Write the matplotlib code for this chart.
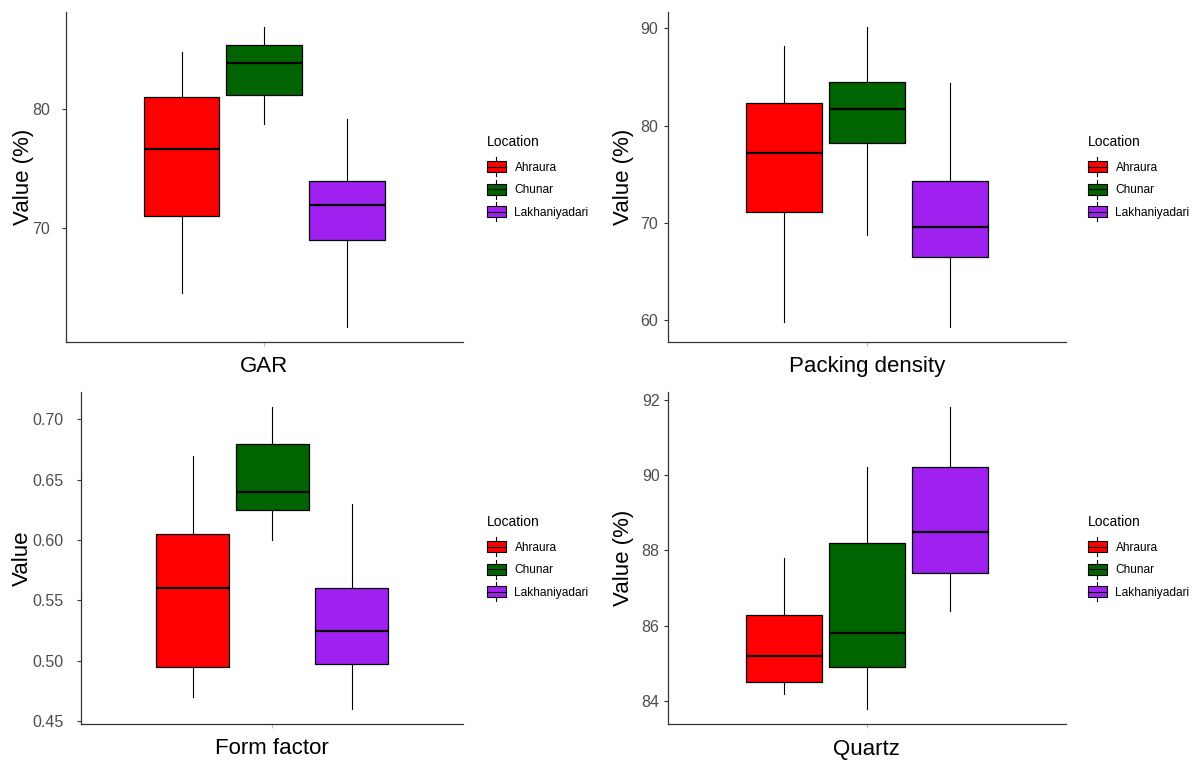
import matplotlib
matplotlib.use("Agg")
import matplotlib.pyplot as plt
from matplotlib.patches import Patch, Rectangle
from matplotlib.lines import Line2D
from matplotlib.legend_handler import HandlerBase
from matplotlib.ticker import MultipleLocator, FormatStrFormatter

plt.rcParams['font.family'] = ['Liberation Sans', 'DejaVu Sans']

locations = ["Ahraura", "Chunar", "Lakhaniyadari"]
colors = ["#FF0000", "#006400", "#A020F0"]

# GAR (%)
gar_lo = [64.6, 78.8, 61.7]
gar_q1 = [71.0, 81.2, 69.0]
gar_med = [76.7, 83.9, 72.0]
gar_q3 = [81.0, 85.4, 74.0]
gar_hi = [84.8, 86.9, 79.2]

# Packing density (%)
pd_lo = [59.8, 68.8, 59.3]
pd_q1 = [71.1, 78.2, 66.5]
pd_med = [77.2, 81.7, 69.6]
pd_q3 = [82.3, 84.5, 74.3]
pd_hi = [88.2, 90.1, 84.4]

# Form factor
ff_lo = [0.47, 0.60, 0.46]
ff_q1 = [0.495, 0.625, 0.497]
ff_med = [0.56, 0.64, 0.525]
ff_q3 = [0.605, 0.68, 0.56]
ff_hi = [0.67, 0.71, 0.63]

# Quartz (%)
qz_lo = [84.2, 83.8, 86.4]
qz_q1 = [84.5, 84.9, 87.4]
qz_med = [85.2, 85.8, 88.5]
qz_q3 = [86.3, 88.2, 90.2]
qz_hi = [87.8, 90.2, 91.8]

panels = [
    dict(name="GAR", ylabel="Value (%)", lo=gar_lo, q1=gar_q1, med=gar_med, q3=gar_q3, hi=gar_hi,
         step=10, fmt="%d", box=(65.7, 463, 12.3, 342), ypad=8.6, ylx=23, leg=(487, 135)),
    dict(name="Packing density", ylabel="Value (%)", lo=pd_lo, q1=pd_q1, med=pd_med, q3=pd_q3, hi=pd_hi,
         step=10, fmt="%d", box=(667.7, 1066, 12.3, 342), ypad=3.9, ylx=624, leg=(1088, 135)),
    dict(name="Form factor", ylabel="Value", lo=ff_lo, q1=ff_q1, med=ff_med, q3=ff_q3, hi=ff_hi,
         step=0.05, fmt="%.2f", box=(81.3, 463, 392.3, 724), ypad=10.0, ylx=22.5, leg=(487, 515)),
    dict(name="Quartz", ylabel="Value (%)", lo=qz_lo, q1=qz_q1, med=qz_med, q3=qz_q3, hi=qz_hi,
         step=2, fmt="%d", box=(667.7, 1066, 392, 724), ypad=3.0, ylx=624, leg=(1088, 515)),
]

W, H = 1197, 760
fig = plt.figure(figsize=(W / 100, H / 100), dpi=100)


class BoxHandler(HandlerBase):
    def create_artists(self, legend, orig_handle, xdescent, ydescent, width, height, fontsize, trans):
        x0, y0 = -xdescent, -ydescent
        b0, b1 = y0 + height * 0.21, y0 + height * 0.79
        xm = x0 + width / 2
        arts = [
            Line2D([xm, xm], [y0, b0], color="black", lw=0.8, transform=trans),
            Line2D([xm, xm], [b1, y0 + height], color="black", lw=0.8, transform=trans),
            Rectangle((x0, b0), width, b1 - b0, facecolor=orig_handle.get_facecolor(),
                      edgecolor="black", lw=0.8, transform=trans),
            Line2D([x0, x0 + width], [(b0 + b1) / 2] * 2, color="black", lw=0.8, transform=trans),
        ]
        return arts


positions = [0.75, 1.0, 1.25]
for p in panels:
    l, r, t, b = p["box"]
    ax = fig.add_axes([l / W, 1 - b / H, (r - l) / W, (b - t) / H])
    stats = []
    for i in range(3):
        stats.append(dict(whislo=p["lo"][i], q1=p["q1"][i], med=p["med"][i],
                          q3=p["q3"][i], whishi=p["hi"][i], fliers=[], label=locations[i]))
    bp = ax.bxp(stats, positions=positions, widths=0.229, patch_artist=True,
                showfliers=False, showcaps=False,
                boxprops=dict(edgecolor="black", linewidth=0.9),
                whiskerprops=dict(color="black", linewidth=0.8),
                medianprops=dict(color="black", linewidth=1.6),
                manage_ticks=False)
    for patch, c in zip(bp["boxes"], colors):
        patch.set_facecolor(c)
    lo_all, hi_all = min(p["lo"]), max(p["hi"])
    rng = hi_all - lo_all
    ax.set_ylim(lo_all - 0.05 * rng, hi_all + 0.05 * rng)
    ax.set_xlim(0.4, 1.6)
    ax.set_xticks([1.0])
    ax.set_xticklabels([""])
    ax.yaxis.set_major_locator(MultipleLocator(p["step"]))
    ax.yaxis.set_major_formatter(FormatStrFormatter(p["fmt"]))
    for s in ["top", "right"]:
        ax.spines[s].set_visible(False)
    for s in ["left", "bottom"]:
        ax.spines[s].set_color("#333333")
        ax.spines[s].set_linewidth(0.9)
    ax.tick_params(axis="y", colors="#333333", length=2.9, width=0.8, labelsize=11.5,
                   labelcolor="#4D4D4D", pad=p["ypad"])
    ax.tick_params(axis="x", colors="#BBBBBB", length=2.9, width=0.8)
    ax.set_xlabel(p["name"], fontsize=16, color="black", va="center")
    ax.xaxis.set_label_coords(0.5, -(25) / (b - t))
    ax.set_ylabel(p["ylabel"], fontsize=16, color="black", va="center", ha="center")
    ax.yaxis.set_label_coords((p["ylx"] - l) / (r - l), 0.5)

    handles = [Patch(facecolor=c, edgecolor="black", label=n) for c, n in zip(colors, locations)]
    lx, ly = p["leg"]
    fs = 8.6
    leg = ax.legend(handles=handles, handler_map={Patch: BoxHandler()}, title="Location",
                    loc="upper left", bbox_to_anchor=(lx / W, 1 - ly / H),
                    bbox_transform=fig.transFigure, frameon=False, fontsize=fs,
                    title_fontsize=10, alignment="left", borderpad=0, borderaxespad=0,
                    handlelength=1.57, handleheight=2.07, labelspacing=0.29, handletextpad=0.73)
    # extra gap between the legend title and its entries (as in ggplot)
    leg._legend_box.sep = 0.29 * fs + 3.6

fig.savefig("out.png", dpi=100)
